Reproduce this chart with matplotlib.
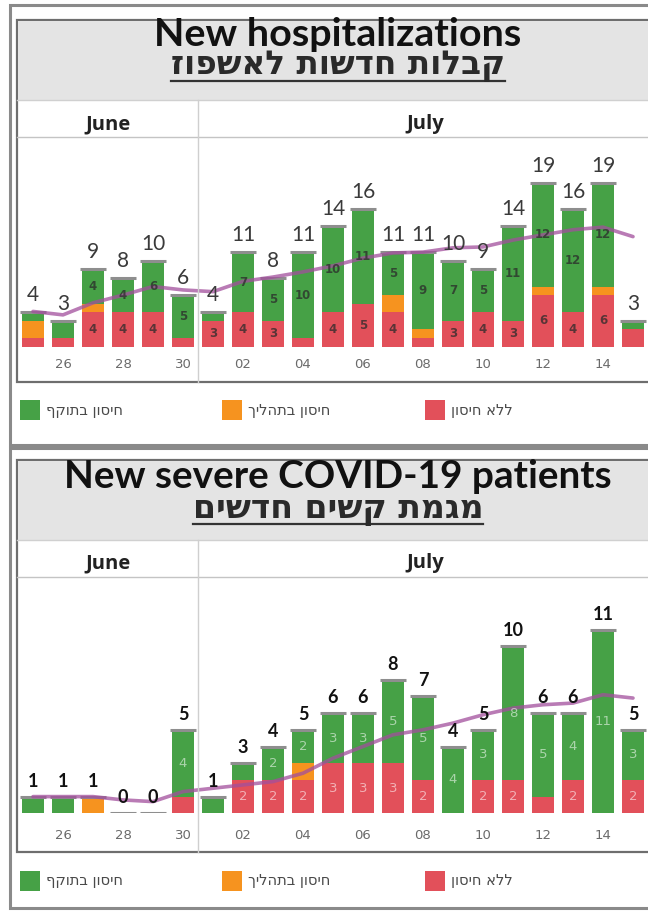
import numpy as np
import matplotlib.pyplot as plt
from matplotlib.patches import Rectangle
from matplotlib.lines import Line2D

# days 25 Jun .. 15 Jul
day_labels = ['25', '26', '27', '28', '29', '30', '01', '02', '03', '04', '05',
              '06', '07', '08', '09', '10', '11', '12', '13', '14', '15']
months = ['June', 'July']

# new hospitalizations
hosp_red = [1, 1, 4, 4, 4, 1, 3, 4, 3, 1, 4, 5, 4, 1, 3, 4, 3, 6, 4, 6, 2]
hosp_orange = [2, 0, 1, 0, 0, 0, 0, 0, 0, 0, 0, 0, 2, 1, 0, 0, 0, 1, 0, 1, 0]
hosp_green = [1, 2, 4, 4, 6, 5, 1, 7, 5, 10, 10, 11, 5, 9, 7, 5, 11, 12, 12, 12, 1]
hosp_avg = [4.1, 3.7, 5.1, 6.0, 7.0, 6.6, 6.4, 7.6, 8.1, 8.7, 9.4, 10.3, 10.9,
            11.0, 11.5, 11.6, 12.4, 13.0, 13.6, 13.9, 12.8]

# new severe patients
sev_red = [0, 0, 0, 0, 0, 1, 0, 2, 2, 2, 3, 3, 3, 2, 0, 2, 2, 1, 2, 0, 2]
sev_orange = [0, 0, 1, 0, 0, 0, 0, 0, 0, 1, 0, 0, 0, 0, 0, 0, 0, 0, 0, 0, 0]
sev_green = [1, 1, 0, 0, 0, 4, 1, 1, 2, 2, 3, 3, 5, 5, 4, 3, 8, 5, 4, 11, 3]
sev_avg = [1.0, 1.0, 1.0, 0.8, 0.7, 1.3, 1.5, 1.7, 1.9, 2.4, 3.3, 4.0, 4.7,
           5.0, 5.4, 5.9, 6.3, 6.5, 6.6, 7.1, 6.9]

legend_labels = ['חיסון בתוקף', 'חיסון בתהליך', 'ללא חיסון']

GREEN = '#46a146'
ORANGE = '#f6931f'
RED = '#e2505a'
LINE = '#a24f9c'
HEB = ['DejaVu Sans']

W, H = 648, 915
fig = plt.figure(figsize=(W / 100, H / 100), dpi=100)
renderer = fig.canvas.get_renderer()


def fx(x):
    return x / W


def fy(y):
    return 1 - y / H


def heb(s):
    # matplotlib has no bidi, so reverse to get visual order
    return s[::-1]


def rect(x0, y0, x1, y1, **kw):
    fig.add_artist(Rectangle((fx(x0), fy(y1)), fx(x1) - fx(x0), fy(y0) - fy(y1),
                             transform=fig.transFigure, **kw))


def line(x0, y0, x1, y1, **kw):
    fig.add_artist(Line2D([fx(x0), fx(x1)], [fy(y0), fy(y1)],
                          transform=fig.transFigure, **kw))


def fit(t, width):
    w = t.get_window_extent(renderer).width
    t.set_fontsize(t.get_fontsize() * width / w)
    return t


def panel(g, title, title_w, sub, sub_w, red, orange, green, avg, ppu,
          min_lab, inner_kw, tot_kw, pad):
    o0, o1 = g['outer']
    i0, i1 = g['inner']
    # frames
    rect(10, o0, 700, o1, facecolor='white', edgecolor='#8a8a8a', lw=2.2, zorder=0)
    rect(17, i0, 700, i1, facecolor='white', edgecolor='#6e6e6e', lw=1.6, zorder=0)
    rect(18, i0 + 1, 700, g['band'], facecolor='#e4e4e4', edgecolor='none', zorder=0)
    line(17, g['band'], 648, g['band'], color='#d0d0d0', lw=1)
    line(17, g['header'], 648, g['header'], color='#c4c4c4', lw=1)
    line(198, g['band'], 198, i1, color='#cfcfcf', lw=1)

    t = fig.text(fx(338), fy(g['title_y']), title, ha='center', va='center',
                 fontsize=26, weight='bold', family=['Lato', 'DejaVu Sans'], color='#111')
    fit(t, title_w)
    s = fig.text(fx(338), fy(g['sub_y']), heb(sub), ha='center', va='center',
                 fontsize=20, weight='bold', family=HEB, color='#2a2a2a')
    fit(s, sub_w)
    bb = s.get_window_extent(renderer)
    line(bb.x0, g['ul'], bb.x1, g['ul'], color='#333', lw=1.6)

    for xm, m in zip([108, 425], months):
        fig.text(fx(xm), fy(g['month_y']), m, ha='center', va='center',
                 fontsize=14.5, weight='bold', family='Open Sans', color='#222')

    # chart
    base = g['base']
    ch_top = g['header']
    ax = fig.add_axes([fx(17), fy(base), fx(648) - fx(17), (base - ch_top) / H])
    ax.set_xlim(-0.533, 20.5)
    ax.set_ylim(0, (base - ch_top) / ppu)
    ax.patch.set_alpha(0)
    for sp in ax.spines.values():
        sp.set_visible(False)
    ax.set_yticks([])

    x = np.arange(len(red))
    red = np.array(red)
    orange = np.array(orange)
    green = np.array(green)
    tot = red + orange + green
    bw = 0.73
    ax.bar(x, red, bw, color=RED, zorder=2)
    ax.bar(x, orange, bw, bottom=red, color=ORANGE, zorder=2)
    ax.bar(x, green, bw, bottom=red + orange, color=GREEN, zorder=2)
    ax.hlines(tot, x - 0.44, x + 0.44, color='#8e8e8e', lw=2.2, zorder=3)
    ax.plot(x, avg, color=LINE, lw=2.6, alpha=0.75, zorder=4,
            solid_capstyle='round')

    for i in x:
        if red[i] >= min_lab:
            ax.text(i, red[i] / 2, str(red[i]), ha='center', va='center',
                    zorder=5, **inner_kw)
        if green[i] >= min_lab:
            ax.text(i, red[i] + orange[i] + green[i] / 2, str(green[i]),
                    ha='center', va='center', zorder=5, **inner_kw)
        ax.annotate(str(tot[i]), (i, tot[i]), xytext=(0, 5), textcoords='offset points',
                    ha='center', va='bottom', zorder=6, **tot_kw)

    ax.set_xticks(x[1::2])
    ax.set_xticklabels(day_labels[1::2])
    ax.tick_params(length=0, pad=pad, labelsize=9.5, labelcolor='#6a6a6a')

    # legend row
    cols = [GREEN, ORANGE, RED]
    xs = [20, 222, 425]
    ly = g['legend']
    for c, xx, lab in zip(cols, xs, legend_labels):
        rect(xx, ly - 10, xx + 20, ly + 10, facecolor=c, edgecolor='none')
        fig.text(fx(xx + 26), fy(ly), heb(lab), ha='left', va='center',
                 fontsize=10.5, family=HEB, color='#4a4a4a')


top_geo = dict(outer=(5, 445), inner=(20, 382), band=100, header=137, base=346.7,
               legend=410, title_y=34, sub_y=66, ul=81, month_y=124)
bot_geo = dict(outer=(448, 908), inner=(460, 852), band=540, header=577, base=813.3,
               legend=881, title_y=477, sub_y=509, ul=524, month_y=563)

panel(top_geo, 'New hospitalizations', 367, 'קבלות חדשות לאשפוז', 333,
      hosp_red, hosp_orange, hosp_green, hosp_avg, 8.6, 3,
      dict(fontsize=8.5, weight='bold', color='#2b2b2b', alpha=0.75),
      dict(fontsize=15, color='#3a3a3a', family='Lato'), 8)

panel(bot_geo, 'New severe COVID-19 patients', 547, 'מגמת קשים חדשים', 290,
      sev_red, sev_orange, sev_green, sev_avg, 16.7, 2,
      dict(fontsize=9.5, color='white', alpha=0.55),
      dict(fontsize=13, weight='bold', color='#111', family='Lato'), 11)

fig.savefig('out.png', dpi=100, facecolor='white')
